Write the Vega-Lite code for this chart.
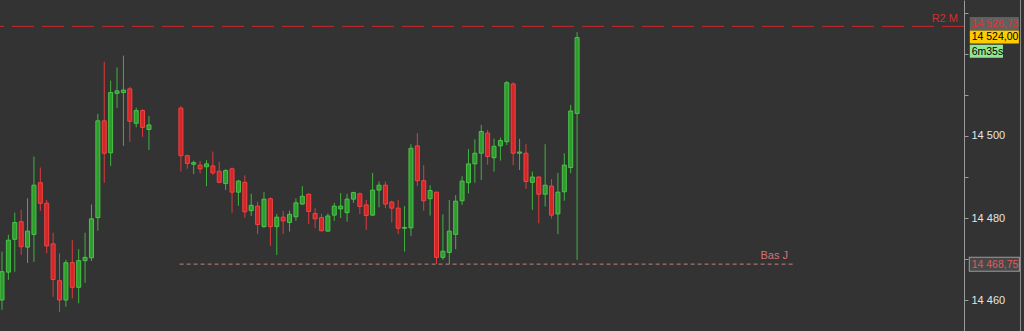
{
  "$schema": "https://vega.github.io/schema/vega-lite/v6.json",
  "width": 964,
  "height": 331,
  "autosize": {"type": "none"},
  "padding": {"left": 0, "top": 0, "right": 60, "bottom": 0},
  "background": "#333333",
  "config": {
    "view": {"stroke": null, "fill": "#333333"},
    "font": "Liberation Sans",
    "axisX": {"disable": true}
  },
  "datasets": {
    "candles": [
      {"i":0,"o":14460.0,"h":14471.8,"l":14457.6,"c":14466.9},
      {"i":1,"o":14466.8,"h":14475.9,"l":14464.9,"c":14474.6},
      {"i":2,"o":14474.8,"h":14481.3,"l":14466.9,"c":14478.9},
      {"i":3,"o":14479.1,"h":14482.0,"l":14471.0,"c":14473.0},
      {"i":4,"o":14472.9,"h":14484.8,"l":14469.0,"c":14476.8},
      {"i":5,"o":14476.0,"h":14495.0,"l":14469.3,"c":14488.0},
      {"i":6,"o":14488.6,"h":14492.3,"l":14481.8,"c":14483.6},
      {"i":7,"o":14483.6,"h":14484.4,"l":14471.4,"c":14473.2},
      {"i":8,"o":14473.7,"h":14476.4,"l":14460.8,"c":14465.0},
      {"i":9,"o":14464.7,"h":14471.4,"l":14457.1,"c":14460.0},
      {"i":10,"o":14460.0,"h":14469.8,"l":14458.4,"c":14469.1},
      {"i":11,"o":14469.1,"h":14474.6,"l":14460.4,"c":14463.1},
      {"i":12,"o":14463.1,"h":14472.4,"l":14459.2,"c":14469.6},
      {"i":13,"o":14469.6,"h":14476.4,"l":14464.2,"c":14470.4},
      {"i":14,"o":14470.3,"h":14483.3,"l":14469.5,"c":14479.8},
      {"i":15,"o":14480.1,"h":14505.4,"l":14476.9,"c":14503.7},
      {"i":16,"o":14503.7,"h":14518.1,"l":14488.6,"c":14495.8},
      {"i":17,"o":14495.9,"h":14513.5,"l":14492.7,"c":14510.6},
      {"i":18,"o":14510.4,"h":14516.7,"l":14506.8,"c":14511.0},
      {"i":19,"o":14510.6,"h":14519.6,"l":14497.6,"c":14511.2},
      {"i":20,"o":14511.5,"h":14512.0,"l":14498.6,"c":14503.6},
      {"i":21,"o":14503.1,"h":14506.9,"l":14502.1,"c":14506.2},
      {"i":22,"o":14506.2,"h":14506.6,"l":14499.8,"c":14502.1},
      {"i":23,"o":14501.6,"h":14504.9,"l":14496.6,"c":14502.7},
      {"i":28,"o":14506.8,"h":14507.3,"l":14491.3,"c":14495.2},
      {"i":29,"o":14495.2,"h":14495.4,"l":14492.0,"c":14493.3},
      {"i":30,"o":14493.1,"h":14494.0,"l":14490.7,"c":14493.5},
      {"i":31,"o":14492.9,"h":14493.9,"l":14490.9,"c":14492.0},
      {"i":32,"o":14492.5,"h":14494.1,"l":14487.8,"c":14493.2},
      {"i":33,"o":14492.7,"h":14496.2,"l":14490.5,"c":14491.0},
      {"i":34,"o":14491.4,"h":14493.7,"l":14488.5,"c":14488.7},
      {"i":35,"o":14488.4,"h":14491.9,"l":14486.8,"c":14491.6},
      {"i":36,"o":14492.0,"h":14492.3,"l":14481.3,"c":14486.3},
      {"i":37,"o":14486.3,"h":14489.3,"l":14483.0,"c":14489.0},
      {"i":38,"o":14488.7,"h":14490.4,"l":14480.1,"c":14481.5},
      {"i":39,"o":14481.8,"h":14485.9,"l":14480.5,"c":14483.1},
      {"i":40,"o":14482.9,"h":14484.0,"l":14476.1,"c":14478.4},
      {"i":41,"o":14477.9,"h":14486.3,"l":14477.6,"c":14484.6},
      {"i":42,"o":14484.7,"h":14485.0,"l":14473.2,"c":14477.9},
      {"i":43,"o":14477.9,"h":14481.0,"l":14471.0,"c":14480.2},
      {"i":44,"o":14480.2,"h":14481.7,"l":14476.1,"c":14479.3},
      {"i":45,"o":14478.9,"h":14481.8,"l":14476.7,"c":14480.9},
      {"i":46,"o":14480.3,"h":14484.8,"l":14479.3,"c":14483.7},
      {"i":47,"o":14483.4,"h":14487.8,"l":14483.2,"c":14485.3},
      {"i":48,"o":14485.8,"h":14486.0,"l":14478.5,"c":14481.6},
      {"i":49,"o":14481.1,"h":14482.4,"l":14477.5,"c":14479.8},
      {"i":50,"o":14480.1,"h":14481.0,"l":14476.7,"c":14476.9},
      {"i":51,"o":14476.8,"h":14481.1,"l":14476.7,"c":14480.5},
      {"i":52,"o":14480.7,"h":14483.7,"l":14479.3,"c":14482.9},
      {"i":53,"o":14482.2,"h":14486.1,"l":14480.0,"c":14482.9},
      {"i":54,"o":14481.3,"h":14485.9,"l":14479.1,"c":14484.6},
      {"i":55,"o":14484.6,"h":14486.4,"l":14483.7,"c":14486.2},
      {"i":56,"o":14485.9,"h":14486.2,"l":14481.0,"c":14482.8},
      {"i":57,"o":14483.2,"h":14484.4,"l":14477.1,"c":14480.6},
      {"i":58,"o":14480.7,"h":14491.0,"l":14480.5,"c":14486.8},
      {"i":59,"o":14486.8,"h":14488.9,"l":14482.6,"c":14488.0},
      {"i":60,"o":14488.0,"h":14488.9,"l":14482.4,"c":14483.4},
      {"i":61,"o":14483.9,"h":14484.2,"l":14478.9,"c":14482.4},
      {"i":62,"o":14482.4,"h":14484.4,"l":14476.1,"c":14477.5},
      {"i":63,"o":14477.5,"h":14482.9,"l":14471.8,"c":14477.7},
      {"i":64,"o":14477.6,"h":14498.0,"l":14475.6,"c":14497.0},
      {"i":65,"o":14497.6,"h":14500.7,"l":14487.8,"c":14489.1},
      {"i":66,"o":14489.1,"h":14492.9,"l":14481.8,"c":14484.2},
      {"i":67,"o":14484.7,"h":14488.0,"l":14480.6,"c":14486.7},
      {"i":68,"o":14486.3,"h":14486.4,"l":14468.75,"c":14470.4},
      {"i":69,"o":14470.4,"h":14480.9,"l":14469.8,"c":14471.9},
      {"i":70,"o":14471.6,"h":14484.4,"l":14468.75,"c":14476.8},
      {"i":71,"o":14476.0,"h":14485.6,"l":14472.4,"c":14484.1},
      {"i":72,"o":14484.2,"h":14490.2,"l":14483.2,"c":14489.0},
      {"i":73,"o":14488.6,"h":14496.8,"l":14486.0,"c":14493.2},
      {"i":74,"o":14493.2,"h":14499.2,"l":14488.6,"c":14495.8},
      {"i":75,"o":14495.8,"h":14502.7,"l":14489.3,"c":14501.1},
      {"i":76,"o":14500.7,"h":14501.5,"l":14493.0,"c":14495.0},
      {"i":77,"o":14494.7,"h":14499.4,"l":14491.3,"c":14497.5},
      {"i":78,"o":14497.6,"h":14499.6,"l":14494.0,"c":14498.9},
      {"i":79,"o":14498.6,"h":14513.4,"l":14497.8,"c":14513.0},
      {"i":80,"o":14512.7,"h":14513.1,"l":14492.9,"c":14495.8},
      {"i":81,"o":14495.8,"h":14499.3,"l":14491.7,"c":14496.1},
      {"i":82,"o":14495.8,"h":14498.0,"l":14487.1,"c":14488.9},
      {"i":83,"o":14488.7,"h":14491.3,"l":14482.0,"c":14490.0},
      {"i":84,"o":14490.0,"h":14490.2,"l":14478.7,"c":14485.8},
      {"i":85,"o":14485.8,"h":14498.0,"l":14482.8,"c":14488.0},
      {"i":86,"o":14487.8,"h":14489.5,"l":14479.9,"c":14480.7},
      {"i":87,"o":14481.0,"h":14491.0,"l":14476.1,"c":14486.3},
      {"i":88,"o":14486.4,"h":14495.8,"l":14484.2,"c":14492.9},
      {"i":89,"o":14492.3,"h":14507.6,"l":14490.9,"c":14506.1},
      {"i":90,"o":14505.5,"h":14525.3,"l":14469.8,"c":14524.0}
    ],
    "levels": [
      {"name": "R2 M", "level": 14526.73},
      {"name": "Bas J", "level": 14468.75}
    ],
    "tags": [
      {"label": "14 526,73", "at": 14527.45, "kind": "level"},
      {"label": "14 524,00", "at": 14524.15, "kind": "last"},
      {"label": "6m35s", "at": 14520.65, "kind": "timer"},
      {"label": "14 468,75", "at": 14468.7, "kind": "low"}
    ]
  },
  "layer": [
    {
      "data": {"name": "candles"},
      "mark": {"type": "rule", "strokeWidth": 1},
      "encoding": {
        "x": {"field": "i", "type": "quantitative", "scale": {"domain": [-0.313, 150.55], "nice": false, "zero": false, "padding": 0}, "axis": null},
        "y": {
          "field": "l", "type": "quantitative",
          "scale": {"domain": [14452.44, 14533.17], "nice": false, "zero": false, "padding": 0},
          "axis": {
            "orient": "right", "title": null, "grid": false,
            "values": [14460, 14470, 14480, 14490, 14500, 14510, 14520, 14530],
            "labelExpr": "(datum.value % 20 == 0 && datum.value != 14520) ? replace(format(datum.value, ',d'), ',', ' ') : ''",
            "domainColor": "#9a9a9a", "tickColor": "#9a9a9a", "tickSize": 4,
            "labelColor": "#e4e4e4", "labelFontSize": 11, "labelFont": "Liberation Sans",
            "labelPadding": 3, "labelOverlap": false, "labelBound": false, "labelFlush": false
          }
        },
        "y2": {"field": "h"},
        "color": {"condition": {"test": "datum.c >= datum.o", "value": "#3fb43f"}, "value": "#e03a3a"}
      }
    },
    {
      "data": {"name": "candles"},
      "mark": {"type": "bar", "size": 4, "strokeWidth": 1},
      "encoding": {
        "x": {"field": "i", "type": "quantitative", "axis": null},
        "y": {"field": "o", "type": "quantitative", "title": null},
        "y2": {"field": "c"},
        "fill": {"condition": {"test": "datum.c >= datum.o", "value": "#2d9c2d"}, "value": "#d42626"},
        "stroke": {"condition": {"test": "datum.c >= datum.o", "value": "#4cc24c"}, "value": "#f04444"}
      }
    },
    {
      "data": {"name": "levels"},
      "transform": [{"filter": "datum.name == 'R2 M'"}],
      "mark": {"type": "rule", "color": "#c8282c", "strokeWidth": 1, "strokeDash": [22, 8]},
      "encoding": {"y": {"field": "level", "type": "quantitative", "title": null}}
    },
    {
      "data": {"name": "levels"},
      "transform": [{"filter": "datum.name == 'R2 M'"}],
      "mark": {"type": "text", "align": "right", "baseline": "middle", "dy": -7, "fontSize": 11, "color": "#d03030"},
      "encoding": {
        "x": {"datum": 149.6, "type": "quantitative", "axis": null},
        "y": {"field": "level", "type": "quantitative", "title": null},
        "text": {"field": "name"}
      }
    },
    {
      "data": {"name": "levels"},
      "transform": [{"filter": "datum.name == 'Bas J'"}],
      "mark": {"type": "rule", "color": "#c48080", "strokeWidth": 1, "strokeDash": [4, 3]},
      "encoding": {
        "x": {"datum": 27.8, "type": "quantitative", "axis": null},
        "x2": {"datum": 123.8},
        "y": {"field": "level", "type": "quantitative", "title": null}
      }
    },
    {
      "data": {"name": "levels"},
      "transform": [{"filter": "datum.name == 'Bas J'"}],
      "mark": {"type": "text", "align": "right", "baseline": "middle", "dy": -8, "fontSize": 11, "color": "#d87272"},
      "encoding": {
        "x": {"datum": 123.0, "type": "quantitative", "axis": null},
        "y": {"field": "level", "type": "quantitative", "title": null},
        "text": {"field": "name"}
      }
    },
    {
      "data": {"name": "tags"},
      "transform": [{"filter": "datum.kind == 'low'"}],
      "mark": {"type": "rule", "strokeWidth": 15, "strokeCap": "butt", "color": "#9a9a9a"},
      "encoding": {
        "x": {"datum": 151.3, "type": "quantitative", "axis": null},
        "x2": {"datum": 159.3},
        "y": {"field": "at", "type": "quantitative", "title": null}
      }
    },
    {
      "data": {"name": "tags"},
      "transform": [{"filter": "datum.kind != 'timer'"}],
      "mark": {"type": "rule", "strokeWidth": 13, "strokeCap": "butt"},
      "encoding": {
        "x": {"datum": 151.46, "type": "quantitative", "axis": null},
        "x2": {"datum": 159.14},
        "y": {"field": "at", "type": "quantitative", "title": null},
        "stroke": {
          "condition": [
            {"test": "datum.kind == 'last'", "value": "#ffcc00"},
            {"test": "datum.kind == 'low'", "value": "#484848"}
          ],
          "value": "#606060"
        }
      }
    },
    {
      "data": {"name": "tags"},
      "transform": [{"filter": "datum.kind == 'timer'"}],
      "mark": {"type": "rule", "strokeWidth": 13, "strokeCap": "butt", "color": "#92e692"},
      "encoding": {
        "x": {"datum": 151.46, "type": "quantitative", "axis": null},
        "x2": {"datum": 156.65},
        "y": {"field": "at", "type": "quantitative", "title": null}
      }
    },
    {
      "data": {"name": "tags"},
      "mark": {"type": "text", "align": "left", "baseline": "middle", "fontSize": 10.5, "dy": 0.5},
      "encoding": {
        "x": {"datum": 151.75, "type": "quantitative", "axis": null},
        "y": {"field": "at", "type": "quantitative", "title": null},
        "text": {"field": "label"},
        "color": {
          "condition": [
            {"test": "datum.kind == 'last' || datum.kind == 'timer'", "value": "#000000"},
            {"test": "datum.kind == 'low'", "value": "#e05a5a"}
          ],
          "value": "#e03434"
        }
      }
    },
    {
      "data": {"values": [{"edge": 159.39}]},
      "mark": {"type": "rule", "color": "#8c8c8c", "strokeWidth": 1},
      "encoding": {"x": {"field": "edge", "type": "quantitative", "axis": null}}
    }
  ]
}
